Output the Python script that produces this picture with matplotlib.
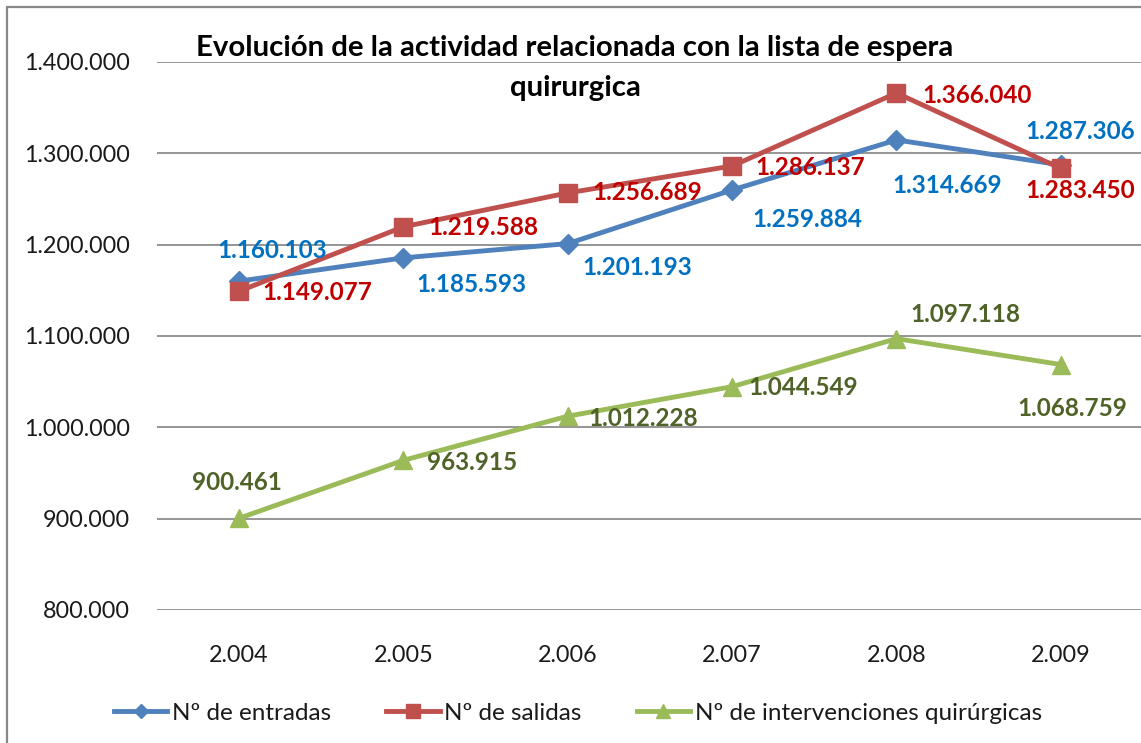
import matplotlib
matplotlib.use("Agg")
import matplotlib.pyplot as plt
from matplotlib.patches import Rectangle

years = ["2.004", "2.005", "2.006", "2.007", "2.008", "2.009"]
entradas = [1160103, 1185593, 1201193, 1259884, 1314669, 1287306]
salidas = [1149077, 1219588, 1256689, 1286137, 1366040, 1283450]
intervenciones = [900461, 963915, 1012228, 1044549, 1097118, 1068759]
yticks = [800000, 900000, 1000000, 1100000, 1200000, 1300000, 1400000]
series_names = ["Nº de entradas", "Nº de salidas", "Nº de intervenciones quirúrgicas"]
title_lines = ["Evolución de la actividad relacionada con la lista de espera", "quirurgica"]

def fmt(v):
    return f"{v:,}".replace(",", ".")

plt.rcParams['font.family'] = ['Lato', 'DejaVu Sans']

W, H = 1141, 743
fig = plt.figure(figsize=(W / 100, H / 100), dpi=100)
left, right, top, bottom = 157, 1143, 62, 610
ax = fig.add_axes([left / W, 1 - bottom / H, (right - left) / W, (bottom - top) / H])
ax.set_xlim(-0.5, 5.5)
ax.set_ylim(800000, 1400000)

x = list(range(len(years)))
c_blue, c_red, c_green = '#4F81BD', '#C0504D', '#9BBB59'
l_blue, l_red, l_green = '#0070C0', '#C00000', '#4F6228'

h1, = ax.plot(x, entradas, color=c_blue, lw=3.5, marker='D', ms=10, label=series_names[0], zorder=3)
h2, = ax.plot(x, salidas, color=c_red, lw=3.5, marker='s', ms=13, label=series_names[1], zorder=4)
h3, = ax.plot(x, intervenciones, color=c_green, lw=3.5, marker='^', ms=13, label=series_names[2], zorder=3)

off_blue = [(33, 31), (68, -27), (69, -24), (75, -30), (51, -46), (19, 33)]
off_red = [(78, -1), (80, -1), (79, 0), (78, -2), (81, -2), (19, -22)]
off_green = [(-2, 36), (69, -2), (75, -2), (71, -1), (69, 24), (11, -44)]

for vals, offs, col in [(entradas, off_blue, l_blue), (salidas, off_red, l_red),
                        (intervenciones, off_green, l_green)]:
    for xi, v, (dx, dy) in zip(x, vals, offs):
        ax.annotate(fmt(v), (xi, v), xytext=(dx, dy), textcoords='offset pixels',
                    ha='center', va='center', fontsize=17.5, fontweight='bold',
                    color=col, zorder=6)

ax.set_yticks(yticks)
ax.set_yticklabels([fmt(t) for t in yticks], fontsize=16.8, color='#1a1a1a')
ax.set_xticks(x)
ax.set_xticklabels(years, fontsize=16.8, color='#1a1a1a')
ax.tick_params(length=0)
ax.tick_params(axis='y', pad=19.5)
ax.tick_params(axis='x', pad=25)
ax.grid(axis='y', color='#8c8c8c', lw=1.3)
ax.set_axisbelow(True)
for s in ['left', 'right', 'top', 'bottom']:
    ax.spines[s].set_visible(False)

fig.text(575 / W, 1 - 48 / H, title_lines[0], ha='center', va='center', fontsize=21.2,
         fontweight='bold', color='#000000')
fig.text(575 / W, 1 - 88 / H, title_lines[1], ha='center', va='center', fontsize=21.2,
         fontweight='bold', color='#000000')

fig.legend(handles=[h1, h2, h3], loc='center', bbox_to_anchor=(578 / W, 1 - 713 / H), ncol=3,
           frameon=False, fontsize=17.5, handlelength=2.2, handletextpad=0.2,
           columnspacing=2.25, labelcolor='#1a1a1a', markerscale=0.75)

fig.add_artist(Rectangle((7 / W, -0.05), 1.1, 1 - 7 / H + 0.05, transform=fig.transFigure,
                         fill=False, edgecolor='#888888', lw=1.6))

fig.savefig('out.png', dpi=100)
